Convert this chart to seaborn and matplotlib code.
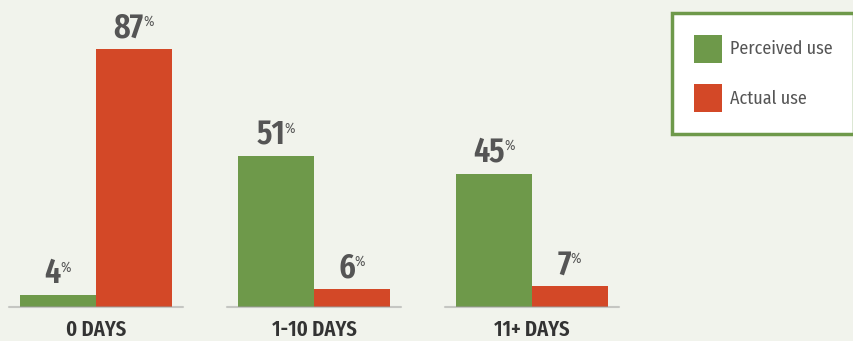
import matplotlib
matplotlib.use("Agg")
import matplotlib.pyplot as plt
from matplotlib import font_manager
import seaborn as sns
import pandas as pd

categories = ["0 DAYS", "1-10 DAYS", "11+ DAYS"]
series = ["Perceived use", "Actual use"]
perceived = [4, 51, 45]
actual = [87, 6, 7]

colors = {"Perceived use": "#6e994a", "Actual use": "#d34827"}
bg = "#f1f3ec"
text_col = "#555555"

sns.set_theme(style="white")
names = {f.name for f in font_manager.fontManager.ttflist}


def pick(options):
    for n in options:
        if n in names:
            return n
    return "DejaVu Sans"


bold_font = pick(["Fira Sans Extra Condensed", "Fira Sans Condensed", "PT Sans Narrow",
                  "Roboto Condensed", "Barlow Condensed", "IBM Plex Sans Condensed"])
light_font = pick(["Fira Sans Condensed", "Fira Sans Extra Condensed", "PT Sans Narrow",
                   "Roboto Condensed", "Barlow Condensed", "IBM Plex Sans Condensed"])
plt.rcParams["font.family"] = [light_font, "DejaVu Sans"]

df = pd.DataFrame({
    "category": categories * 2,
    "series": [series[0]] * 3 + [series[1]] * 3,
    "value": perceived + actual,
})

W, H = 854, 341
fig = plt.figure(figsize=(W / 100, H / 100), dpi=100, facecolor=bg)
ax = fig.add_axes([0, 34 / H, 1, 1 - 34 / H])
ax.set_facecolor(bg)

sns.barplot(data=df, x="category", y="value", hue="series", order=categories,
            hue_order=series, palette=colors, width=0.697, saturation=1,
            linewidth=0, ax=ax, legend=True)

ax.set_xlim(-96 / 218, (W - 96) / 218)
ax.set_ylim(0, 307 / (258 / 87))
for s in ax.spines.values():
    s.set_visible(False)
ax.set_xlabel("")
ax.set_ylabel("")
ax.set_yticks([])
ax.set_xticks(range(len(categories)))
ax.set_xticklabels(categories, fontsize=16, fontweight="semibold", color="#333333",
                   family=[bold_font, "DejaVu Sans"])
ax.tick_params(axis="x", length=0, pad=9)

# soft shadow line under each group
for i in range(len(categories)):
    ax.plot([i - 0.4, i + 0.4], [0, 0], color="#9a9a9a", lw=1.5, alpha=0.5,
            solid_capstyle="round", zorder=1, clip_on=False)

fig.canvas.draw()
renderer = fig.canvas.get_renderer()


def width_px(s, size, weight, fam):
    t = fig.text(0, 0, s, fontsize=size, fontweight=weight, family=[fam, "DejaVu Sans"])
    w = t.get_window_extent(renderer).width
    t.remove()
    return w


num_size, pct_size = 25, 10
for container in ax.containers:
    for bar in container:
        val = bar.get_height()
        cx = bar.get_x() + bar.get_width() / 2
        label = f"{int(round(val))}"
        wn = width_px(label, num_size, "semibold", bold_font)
        wp = width_px("%", pct_size, "normal", light_font)
        shift = (wn - wp) / 2
        ax.annotate(label, (cx, val), xytext=(shift * 0.72, 3), textcoords="offset points",
                    ha="right", va="bottom", fontsize=num_size, fontweight="semibold",
                    color=text_col, family=[bold_font, "DejaVu Sans"])
        ax.annotate("%", (cx, val), xytext=(shift * 0.72 - 0.5, 3 + 22), textcoords="offset points",
                    ha="left", va="top", fontsize=pct_size, color=text_col,
                    family=[light_font, "DejaVu Sans"])

leg = ax.legend(loc="upper left", bbox_to_anchor=(672 / W, 1 - 13 / 307), frameon=True,
                fancybox=False, fontsize=13, handlelength=1.55, handleheight=2.0,
                labelspacing=1.2, handletextpad=0.45, borderpad=1.2, borderaxespad=0)
frame = leg.get_frame()
frame.set_edgecolor("#6e994a")
frame.set_linewidth(2.5)
frame.set_facecolor("white")
frame.set_alpha(1)
for t in leg.get_texts():
    t.set_color(text_col)

fig.savefig("out.png", dpi=100, facecolor=bg)
